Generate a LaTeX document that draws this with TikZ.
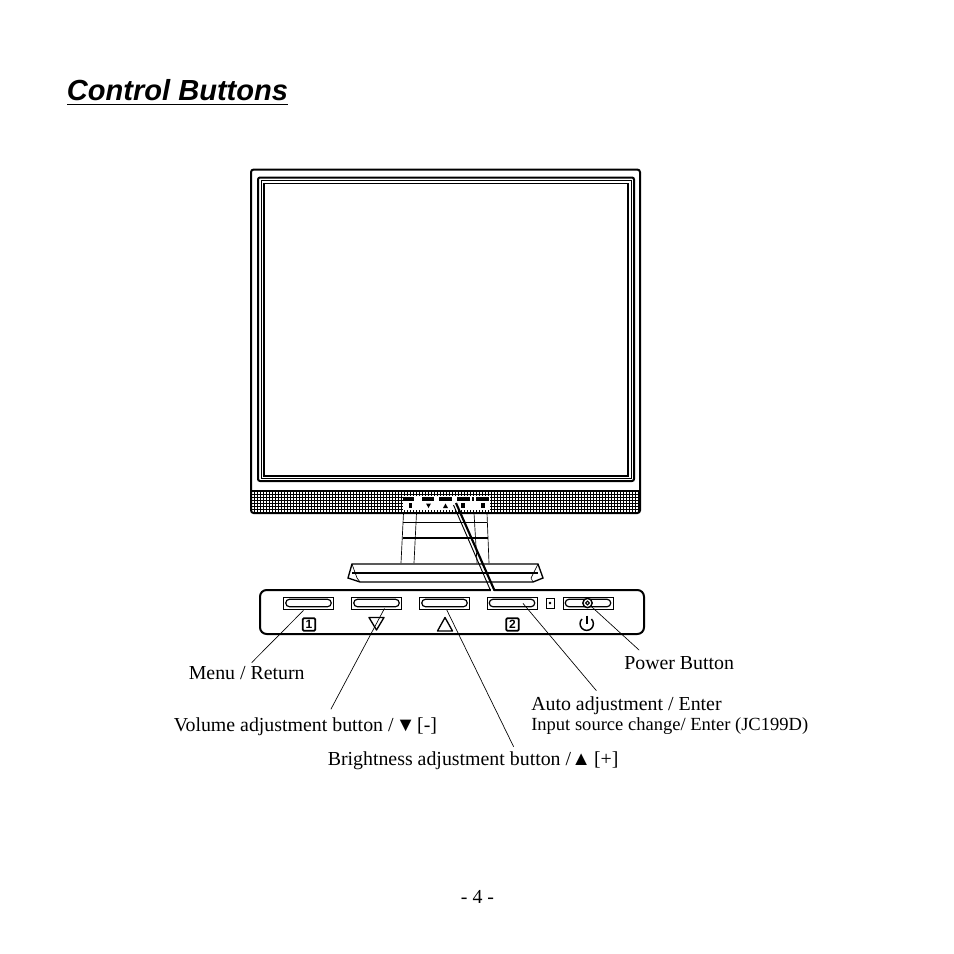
\documentclass[tikz,border=0pt]{standalone}
\usepackage{fontspec}
\setmainfont{Liberation Serif}
\newfontfamily\titlefont{Liberation Sans}
\usetikzlibrary{positioning, calc}

\tikzset{
    lbl/.style={inner sep=0pt, font=\fontsize{14.9}{18}\selectfont},
    leader/.style={line width=0.5pt},
    btnbox/.style={draw, line width=0.6pt, minimum width=37.5pt, minimum height=9pt, inner sep=0pt},
    btncap/.style={draw, line width=0.9pt, rounded corners=2.6pt, minimum width=34pt, minimum height=5.5pt, inner sep=0pt},
    keybox/.style={draw, line width=1.3pt, rounded corners=1pt, minimum width=9.5pt, minimum height=9.5pt, inner sep=0pt, font=\titlefont\bfseries\fontsize{9}{9}\selectfont},
    stand/.style={line width=0.5pt},
    heavy/.style={line width=1.5pt}
}

\begin{document}
\begin{tikzpicture}[x=0.75pt, y=-0.75pt]
\useasboundingbox (0,0) rectangle (954,954);

% Title
\node[inner sep=0pt, font=\titlefont\bfseries\itshape\fontsize{21.8}{26}\selectfont] (title) at (177.5,90) {Control Buttons};
\draw[line width=1.2pt] (67,104.5) -- (288,104.5);

% Stand
\draw[stand] (403.5,513) -- (401,563);
\draw[stand] (416.5,513) -- (414,563);
\draw[stand] (474,513) -- (477,563);
\draw[stand] (487,513) -- (489,563);
\draw[stand] (403,522) -- (487,522);
\draw[line width=1.1pt] (403,538) -- (488,538);

% Base
\draw[line width=1pt] (352,564) -- (538,564) -- (543,578) -- (533,582) -- (360,582) -- (348,578) -- cycle;
\draw[line width=1.2pt] (352,573) -- (538,573);
\draw[stand] (352,564) -- (357,578) -- (360,582);
\draw[stand] (538,564) -- (531,578) -- (533,582);

% Monitor
\draw[line width=1.5pt, rounded corners=2pt, fill=white] (251,169.5) rectangle (640,513);
\draw[line width=1.5pt, rounded corners=1.5pt] (258,177.5) rectangle (634,481);
\draw[line width=0.6pt] (261,180.5) rectangle (631,478);
\draw[line width=1.3pt] (264,183.5) rectangle (628,476);
\draw[line width=1.1pt] (251,491) -- (640,491);

% Speaker grille
\foreach \gx in {254,257,...,638} {
    \draw[line width=0.28pt] (\gx,491) -- (\gx,512);
}
\foreach \gy in {494,497,...,511} {
    \draw[line width=0.28pt] (252,\gy) -- (639,\gy);
}

% Small button strip
\fill[white] (403,496) rectangle (490,510);
\foreach \sa/\sb in {403/414, 422/434, 439/452, 457/470, 472/474, 476/489} {
    \fill (\sa,497) rectangle (\sb,501);
}
\fill (409,503) rectangle (412,508);
\fill (426,503.5) -- (431,503.5) -- (428.5,508) -- cycle;
\fill (443,508) -- (448,508) -- (445.5,503.5) -- cycle;
\fill (461,503) rectangle (465,508);
\fill (481,503) rectangle (485,508);

% Panel
\node[draw, line width=1.5pt, rounded corners=5pt, minimum width=288pt, minimum height=33pt, inner sep=0pt, fill=white] (panel) at (452,612) {};

% Zoom lines
\draw[white, line width=2.5pt] (491,590.5) -- (494,590.5);
\draw[line width=0.7pt] (453.5,505) -- (490.5,590.5);
\draw[line width=1.6pt] (456,503) -- (494.5,590.5);

% Buttons
\foreach \bn/\bx in {btnmenu/308.5, btndown/376.5, btnup/444.5, btnauto/512, btnpower/588} {
    \node[btnbox] (\bn) at (\bx,603) {};
    \node[btncap] (\bn cap) at (\bx,603) {};
}
\node[draw, line width=0.6pt, minimum width=6pt, minimum height=7.5pt, inner sep=0pt] (led) at (550,603) {};
\node[draw, fill=black, circle, line width=0.3pt, minimum size=1.5pt, inner sep=0pt] (leddot) at (550,603) {};
\node[draw, circle, line width=1.1pt, minimum size=7pt, inner sep=0pt, fill=white] (powerknob) at (587.5,603) {};
\node[draw, circle, line width=0.8pt, minimum size=2.8pt, inner sep=0pt] (powerdot) at (587.5,603) {};

% Key marks
\node[keybox] (keyone) at (309,624.5) {1};
\node[keybox] (keytwo) at (512.5,624.5) {2};
\draw[line width=1pt, line join=round] (369,617.5) -- (384,617.5) -- (376.5,630) -- cycle;
\draw[line width=1pt, line join=round] (437.5,631) -- (452.5,631) -- (445,617.5) -- cycle;
\draw[line width=1.1pt] (582,619) arc[start angle=135, end angle=405, radius=5pt];
\draw[line width=1.2pt] (587,615.5) -- (587,623.5);

% Labels
\node[lbl, anchor=west] (menu) at (188.5,673.5) {Menu / Return};
\node[lbl, anchor=west] (volume) at (173.5,726.5) {Volume adjustment button / \kern-2pt▼\kern-2.5pt\ [-]};
\node[lbl, anchor=west] (bright) at (327.5,761) {Brightness adjustment button / \kern-3.5pt▲\kern-1.5pt\ [+]};
\node[lbl, anchor=west] (auto) at (531,706) {Auto adjustment / Enter};
\node[lbl, anchor=west, font=\fontsize{13.9}{16}\selectfont] (input) at (531,726) {Input source change/ Enter (JC199D)};
\node[lbl, anchor=west] (power) at (624,663) {Power Button};
\node[lbl] (page) at (477.5,897) {- 4 -};

% Leaders
\draw[leader] ($(menu.north)+(5,-4)$) -- ($(btnmenu.south)+(-5,1)$);
\draw[leader] ($(volume.north)+(25.5,-8)$) -- ($(btndown.south)+(8,-1)$);
\draw[leader] ($(bright.north)+(40.5,-5)$) -- ($(btnup.south)+(2,0)$);
\draw[leader] ($(auto.north)+(-30,-6)$) -- ($(btnauto.south)+(11,-6)$);
\draw[leader] ($(power.north)+(-40,-6)$) -- (powerknob);

\end{tikzpicture}
\end{document}
